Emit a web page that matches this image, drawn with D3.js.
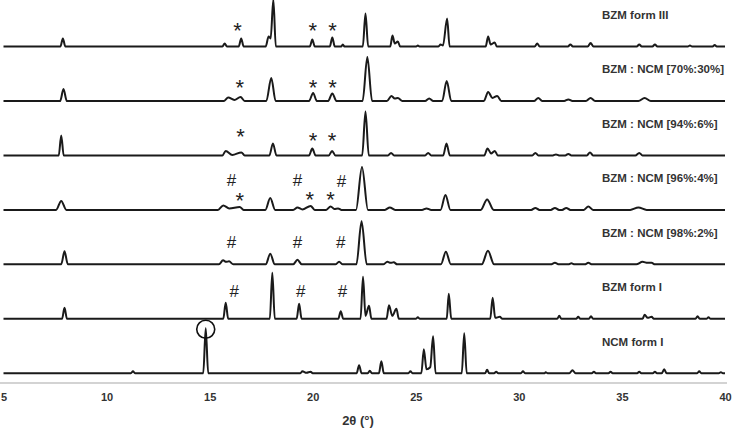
<!DOCTYPE html>
<html><head><meta charset="utf-8">
<script src="https://cdn.jsdelivr.net/npm/d3@7"></script>
<style>html,body{margin:0;padding:0;background:#fff;}svg{display:block;}</style>
</head><body>
<svg id="chart" width="733" height="430"></svg>
<script>
// ---- DATA ----
const seriesNames = ["BZM form III","BZM : NCM [70%:30%]","BZM : NCM [94%:6%]","BZM : NCM [96%:4%]","BZM : NCM [98%:2%]","BZM form I","NCM form I"];
const xTicks = [5,10,15,20,25,30,35,40];

const formIII = [[5,0],[7.76,0],[7.88,8],[8.0,0],[15.62,0],[15.73,3],[15.84,0],[16.41,0],[16.53,8],[16.65,0],
 [17.72,0],[17.86,10],[17.96,8],[18.09,47],[18.21,0],[19.86,0],[19.98,7],[20.1,0],[20.83,0],[20.95,9],[21.07,0],
 [21.38,0],[21.46,2],[21.54,0],[22.43,0],[22.56,33],[22.69,0],[23.76,0],[23.87,11],[23.98,3],[24.13,5],[24.24,0],
 [25.02,0],[25.1,1],[25.18,0],[26.1,0],[26.2,2],[26.32,1],[26.52,28],[26.64,0],[28.39,0],[28.51,10],[28.63,2],[28.83,4],[28.93,0],
 [30.77,0],[30.89,3],[31.01,0],[32.38,0],[32.5,2],[32.62,0],[33.34,0],[33.48,3.5],[33.62,0],[35.72,0],[35.84,2],[35.96,0],
 [36.48,0],[36.6,2],[36.72,0],[38.2,0],[38.3,1],[38.4,0],[39.4,0],[39.5,1.5],[39.6,0],[40,0]];
const mix70 = [[5,0],[7.75,0],[7.91,12],[8.07,0],[15.7,0],[15.9,3.5],[16.2,1],[16.5,4],[16.7,0],[17.75,0],[17.99,23],[18.2,0],
 [19.82,0],[20.02,8],[20.2,0],[20.75,0],[20.95,7.5],[21.15,0],[22.42,0],[22.65,44],[22.88,0],[23.6,0],[23.82,5],[23.98,2.5],[24.13,3],[24.35,0],
 [25.45,0],[25.65,2.5],[25.85,0],[26.28,0],[26.5,20],[26.72,0],[28.3,0],[28.51,9],[28.72,3],[28.95,5],[29.15,0],
 [30.75,0],[30.94,3],[31.13,0],[32.2,0],[32.4,1.5],[32.6,0],[33.25,0],[33.48,3],[33.7,0],[35.8,0],[36.1,3],[36.4,0],[40,0]];
const mix94 = [[5,0],[7.68,0],[7.8,20],[7.92,0],[15.62,0],[15.78,4.5],[16.1,0.5],[16.54,3],[16.7,0],[17.9,0],[18.07,12],[18.24,0],
 [19.82,0],[19.98,7],[20.14,0],[20.78,0],[20.94,4.5],[21.1,0],[22.4,0],[22.56,44],[22.72,0],[23.65,0],[23.8,2.5],[23.95,0],
 [25.45,0],[25.6,2.5],[25.75,0],[26.33,0],[26.49,12],[26.65,0],[28.32,0],[28.48,7],[28.65,2],[28.83,4.5],[28.98,0],
 [30.65,0],[30.8,2.5],[30.95,0],[31.65,0],[31.8,1],[31.95,0],[32.25,0],[32.4,1.5],[32.55,0],[33.3,0],[33.45,3],[33.6,0],
 [35.65,0],[35.84,2.5],[36.0,0],[40,0]];
const mix96 = [[5,0],[7.55,0],[7.8,9],[8.05,0],[15.4,0],[15.66,4.5],[15.95,1.5],[16.46,3],[16.65,0],[17.7,0],[17.94,12],[18.18,0],
 [19.05,0],[19.26,2.5],[19.5,0.5],[19.9,4],[20.1,0],[20.65,0],[20.87,3.5],[21.05,1],[21.23,1.5],[21.4,0],[22.1,0],[22.39,43],[22.68,0],
 [23.5,0],[23.74,2.5],[24.0,0],[25.3,0],[25.52,1.5],[25.75,0],[26.2,0],[26.44,15],[26.68,0],[28.15,0],[28.46,10.5],[28.78,0],
 [30.6,0],[30.8,2],[31.0,0],[31.55,0],[31.75,2],[31.95,0],[32.1,0],[32.3,2],[32.5,0],[33.15,0],[33.37,3.5],[33.6,0],
 [35.4,0],[35.8,2.5],[36.2,0],[40,0]];
const mix98 = [[5,0],[7.8,0],[7.96,13],[8.12,0],[15.45,0],[15.65,4],[15.8,2.5],[15.94,3],[16.15,0],[17.72,0],[17.94,10.5],[18.16,0],
 [19.05,0],[19.26,4.5],[19.47,0],[21.1,0],[21.28,2.5],[21.46,0],[22.12,0],[22.37,43],[22.62,0],[23.42,0],[23.62,2.5],[23.78,1.5],[23.93,2],[24.1,0],
 [26.22,0],[26.46,12.5],[26.7,0],[28.2,0],[28.5,13.5],[28.8,0],[31.55,0],[31.75,1.5],[31.95,0],[32.4,0],[32.55,1],[32.7,0],
 [33.2,0],[33.37,1.5],[33.55,0],[35.7,0],[36.0,2.5],[36.25,1.5],[36.44,1.5],[36.6,0],[40,0]];
const formI = [[5,0],[7.84,0],[7.96,11],[8.08,0],[15.66,0],[15.78,16],[15.9,0],[17.92,0],[18.04,46],[18.16,0],
 [19.22,0],[19.34,15],[19.46,0],[21.24,0],[21.36,7.5],[21.48,0],[22.32,0],[22.44,42],[22.56,3],[22.73,13],[22.85,0],
 [23.58,0],[23.7,13.5],[23.86,3],[24.06,10],[24.18,0],[25.0,0],[25.1,1.5],[25.2,0],[26.5,0],[26.6,25],[26.72,0],
 [28.61,0],[28.73,21],[28.85,1],[29.08,2],[29.2,0],[31.86,0],[31.96,3],[32.06,0],[32.78,0],[32.88,2],[32.98,0],
 [33.4,0],[33.5,2.5],[33.6,0],[36.0,0],[36.1,4],[36.25,1],[36.44,2],[36.55,0],[38.57,0],[38.67,2.5],[38.77,0],
 [39.1,0],[39.2,1.5],[39.3,0],[40,0]];
const ncmI = [[5,0],[11.18,0],[11.28,2],[11.38,0],[14.69,0],[14.81,45],[14.93,0],[19.4,0],[19.5,2],[19.7,0.5],[19.9,1.5],[20.0,0],
 [22.13,0],[22.25,8],[22.37,0],[22.67,0],[22.77,2.5],[22.87,0],[23.21,0],[23.33,12],[23.45,0],[24.64,0],[24.74,2],[24.84,0],
 [25.27,0],[25.39,24],[25.52,4],[25.7,6],[25.84,37],[25.96,0],[27.23,0],[27.35,40],[27.47,0],[28.36,0],[28.46,3.5],[28.56,0],
 [28.8,0],[28.9,1.5],[29.0,0],[30.1,0],[30.2,2],[30.3,0],[31.25,0],[31.3,1],[31.4,0],[32.45,0],[32.6,3],[32.75,0],
 [33.54,0],[33.64,1.5],[33.74,0],[34.35,0],[34.45,1.5],[34.55,0],[35.74,0],[35.84,1.5],[35.94,0],[36.5,0],[36.6,1.5],[36.7,0],
 [36.93,0],[37.05,4],[37.17,0],[38.65,0],[38.75,2],[38.85,0],[39.7,0],[39.8,1],[39.9,0],[40,0]];
const seriesData = [formIII, mix70, mix94, mix96, mix98, formI, ncmI];

// marker annotations: [series index, 2θ, level above baseline, symbol]
const markers = [
 [0,16.35,20,"*"],[0,20.0,20,"*"],[0,20.96,20,"*"],
 [1,16.46,17.3,"*"],[1,20.02,17.3,"*"],[1,20.96,17.3,"*"],
 [2,16.5,22,"*"],[2,20.02,18,"*"],[2,20.94,18,"*"],
 [3,16.06,30,"#"],[3,16.46,12.5,"*"],[3,19.26,30,"#"],[3,19.86,13.5,"*"],[3,20.87,13.5,"*"],[3,21.39,28.5,"#"],
 [4,16.06,22.6,"#"],[4,19.26,22.6,"#"],[4,21.36,22.6,"#"],
 [5,16.19,27.8,"#"],[5,19.42,27.8,"#"],[5,21.44,27.8,"#"]
];
// circled peak: [series index, 2θ, level]
const circled = [[6,14.81,44]];

// ---- DRAW ----
const svg = d3.select("#chart");
const x = d3.scaleLinear().domain([5,40]).range([3.5,725]);
const base = d3.scaleLinear().domain([0,6]).range([46.5,373.3]);
const inten = d3.scaleLinear().domain([0,50]).range([0,50]);

const line = d3.line().curve(d3.curveMonotoneX);
seriesData.forEach((s,i)=>{
  const b = base(i);
  svg.append("path")
    .attr("d", line.x(d=>x(d[0])).y(d=>b - inten(d[1]))(s))
    .attr("fill","none").attr("stroke","#1a1a1a").attr("stroke-width",2)
    .attr("stroke-linejoin","round");
  svg.append("text").attr("x",602).attr("y",b-27.5)
    .attr("font-family","Liberation Sans, Arial, sans-serif").attr("font-weight","bold")
    .attr("font-size",11.5).attr("fill","#333").text(seriesNames[i]);
});

markers.forEach(m=>{
  const cy = base(m[0]) - inten(m[2]);
  const isStar = m[3]==="*";
  svg.append("text").attr("x",x(m[1])).attr("y", isStar ? cy + 11 : cy + 6)
    .attr("text-anchor","middle")
    .attr("font-family","Liberation Sans, Arial, sans-serif")
    .attr("font-size", isStar ? 22 : 17).attr("fill","#222").text(m[3]);
});

circled.forEach(c=>{
  svg.append("circle").attr("cx",x(c[1])).attr("cy",base(c[0]) - inten(c[2]))
    .attr("r",9).attr("fill","none").attr("stroke","#111").attr("stroke-width",1.6);
});

const axis = d3.axisBottom(x).tickValues(xTicks).tickSize(0).tickPadding(10).tickFormat(d3.format("d"));
const gx = svg.append("g").attr("transform","translate(0,383)").call(axis);
gx.select(".domain").attr("stroke","#c4c4c4").attr("stroke-width",1.5).attr("d","M0,0H727");
gx.selectAll("text").attr("font-family","Liberation Sans, Arial, sans-serif")
  .attr("font-weight","bold").attr("font-size",11).attr("fill","#333");

svg.append("text").attr("x",358).attr("y",425).attr("text-anchor","middle")
  .attr("font-family","Liberation Sans, Arial, sans-serif").attr("font-weight","bold")
  .attr("font-size",13).attr("fill","#333").text("2θ (°)");
</script>
</body></html>
